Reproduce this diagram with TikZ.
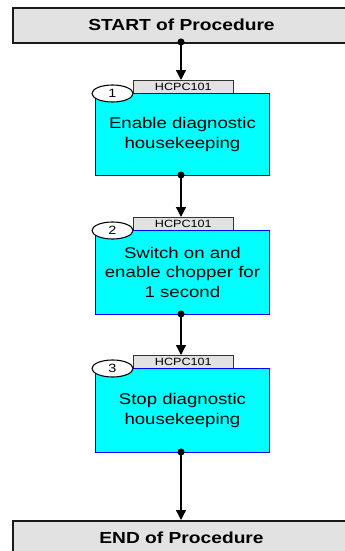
\documentclass[tikz,border=0pt]{standalone}
\usepackage{fontspec}
\setmainfont[FakeStretch=1.2]{Liberation Sans}
\usetikzlibrary{arrows.meta,shapes.geometric}

\definecolor{panelgray}{HTML}{E2E2E2}
\definecolor{stepcyan}{HTML}{00FFFF}
\definecolor{stepblue}{HTML}{0000FF}
\definecolor{frameline}{HTML}{1A1A1A}

\tikzset{
  terminal/.style={draw=frameline, line width=2pt, fill=panelgray, anchor=north west,
    inner sep=0pt},
  termtext/.style={font=\fontsize{16}{19}\selectfont\bfseries},
  stepbox/.style={draw=stepblue, line width=0.9pt, fill=stepcyan, anchor=north west,
    inner sep=0pt, align=center, font=\fontsize{15.5}{19.5}\selectfont},
  tagbox/.style={draw=black!80, line width=0.7pt, fill=panelgray, anchor=north west,
    inner sep=0pt, minimum width=100pt, minimum height=13pt,
    font=\fontsize{10.5}{11}\selectfont},
  numoval/.style={draw=black, line width=1.1pt, fill=white, ellipse,
    minimum width=41pt, minimum height=17pt, inner sep=0pt,
    font=\fontsize{12}{13}\selectfont},
  flow/.style={line width=1.3pt, black,
    {Circle[length=7pt,width=7pt]}-{Triangle[length=10pt,width=10pt]},
    shorten <=-3.5pt},
}

\begin{document}
\begin{tikzpicture}[x=1pt,y=-1pt]
  \useasboundingbox (0,0) rectangle (345,551);
  \clip (0,0) rectangle (345,551);

  % start and end terminals
  \node[terminal, minimum width=340pt, minimum height=35pt] (start) at (12,7) {};
  \node[termtext] (starttext) at (181.5,24.5) {START of Procedure};
  \node[terminal, minimum width=340pt, minimum height=40pt] (stop) at (12,520) {};
  \node[termtext] (stoptext) at (181.5,537.5) {END of Procedure};

  % step 1
  \node[tagbox] (tag1) at (133,80) {HCPC101};
  \node[stepbox, minimum width=174pt, minimum height=82pt] (box1) at (95,93)
    {Enable diagnostic\\housekeeping};
  \node[numoval] (num1) at (112.5,93.5) {1};

  % step 2
  \node[tagbox] (tag2) at (133,217) {HCPC101};
  \node[stepbox, minimum width=174pt, minimum height=84pt] (box2) at (95,230)
    {Switch on and\\enable chopper for\\1 second};
  \node[numoval] (num2) at (112.5,230.5) {2};

  % step 3
  \node[tagbox] (tag3) at (133,355) {HCPC101};
  \node[stepbox, minimum width=174pt, minimum height=84pt] (box3) at (95,368)
    {Stop diagnostic\\housekeeping};
  \node[numoval] (num3) at (112.5,368.5) {3};

  % connectors
  \coordinate (s0) at (181,42);
  \draw[flow] (s0) -- (s0 |- tag1.north);
  \coordinate (s1) at (181,175);
  \draw[flow] (s1) -- (s1 |- tag2.north);
  \coordinate (s2) at (181,314);
  \draw[flow] (s2) -- (s2 |- tag3.north);
  \coordinate (s3) at (181,452);
  \draw[flow] (s3) -- (s3 |- stop.north);
\end{tikzpicture}
\end{document}
